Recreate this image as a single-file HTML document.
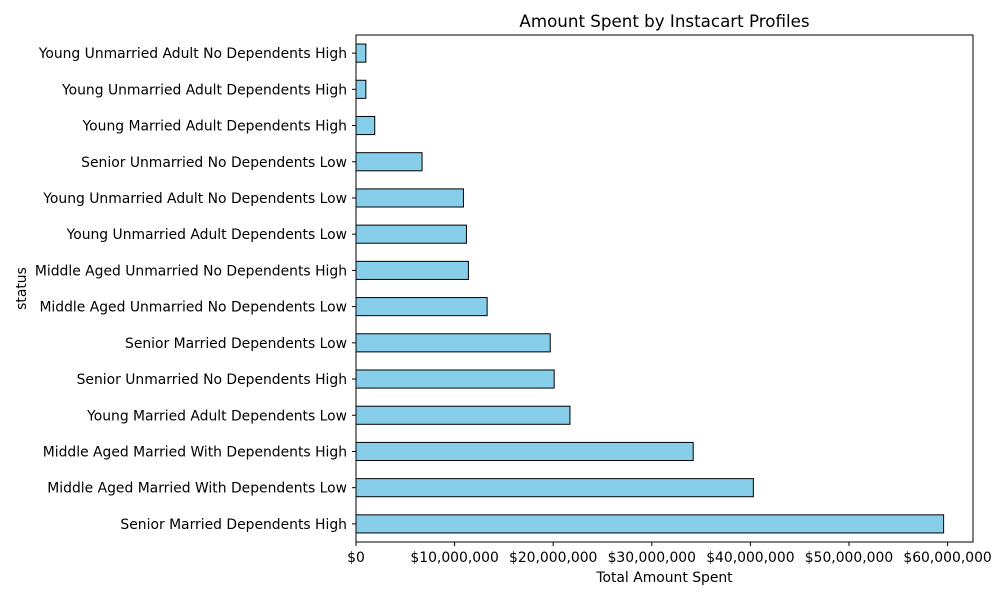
<!DOCTYPE html>
<html><head><meta charset="utf-8"><style>
body{margin:0;background:#fff;font-family:"Liberation Sans","DejaVu Sans",sans-serif;}
svg text{font-family:"DejaVu Sans","Liberation Sans",sans-serif;}
</style></head><body>
<svg id="chart" width="1000" height="600" xmlns="http://www.w3.org/2000/svg"></svg>
<script>
const categories=["Senior Married Dependents High","Middle Aged Married With Dependents Low","Middle Aged Married With Dependents High","Young Married Adult Dependents Low","Senior Unmarried No Dependents High","Senior Married Dependents Low","Middle Aged Unmarried No Dependents Low","Middle Aged Unmarried No Dependents High","Young Unmarried Adult Dependents Low","Young Unmarried Adult No Dependents Low","Senior Unmarried No Dependents Low","Young Married Adult Dependents High","Young Unmarried Adult Dependents High","Young Unmarried Adult No Dependents High"];
const values=[59600000,40300000,34200000,21700000,20100000,19700000,13300000,11400000,11200000,10900000,6700000,1900000,1000000,1000000];
const xTicks=[0,10000000,20000000,30000000,40000000,50000000,60000000];
const xTickLabels=["$0","$10,000,000","$20,000,000","$30,000,000","$40,000,000","$50,000,000","$60,000,000"];
const NS="http://www.w3.org/2000/svg";
const svg=document.getElementById('chart');
const L=356,R=973,T=35,B=542;
const xmax=Math.max(...values)*1.05;
const x=v=>L+v/xmax*(R-L);
const n=categories.length;
const y=i=>B-(i+0.5)*(B-T)/n;
const bh=0.5*(B-T)/n;
function mk(tag,attrs,parent){const e=document.createElementNS(NS,tag);for(const k in attrs)e.setAttribute(k,attrs[k]);(parent||svg).appendChild(e);return e;}
const bars=mk('g',{});


values.forEach((v,i)=>{
  const r=mk('rect',{x:x(0),y:y(i)-bh/2,width:x(v)-x(0),height:bh,fill:'#87ceeb',stroke:'#000','stroke-width':1},bars);
  
  
  mk('line',{x1:L-4,x2:L,y1:y(i),y2:y(i),stroke:'#000'});
  const t=mk('text',{x:L-9,y:y(i)+5,'text-anchor':'end','font-size':13.9,fill:'#000'});
  t.textContent=categories[i];
  
  
});
xTicks.forEach((v,i)=>{
  mk('line',{x1:x(v),x2:x(v),y1:B,y2:B+4,stroke:'#000'});
  const t=mk('text',{x:x(v),y:B+20,'text-anchor':'middle','font-size':13.9,fill:'#000'});
  t.textContent=xTickLabels[i];
  
  
});
const frame=mk('rect',{x:L,y:T,width:R-L,height:B-T,fill:'none',stroke:'#000','stroke-width':1});


const title=mk('text',{x:(L+R)/2,y:27,'text-anchor':'middle','font-size':16.7});
title.textContent='Amount Spent by Instacart Profiles';


const xt=mk('text',{x:(L+R)/2,y:582,'text-anchor':'middle','font-size':13.9});
xt.textContent='Total Amount Spent';


const yt=mk('text',{x:26,y:(T+B)/2,'text-anchor':'middle','font-size':13.9,transform:'rotate(-90 26 '+((T+B)/2)+')'});
yt.textContent='status';


</script>
</body></html>
